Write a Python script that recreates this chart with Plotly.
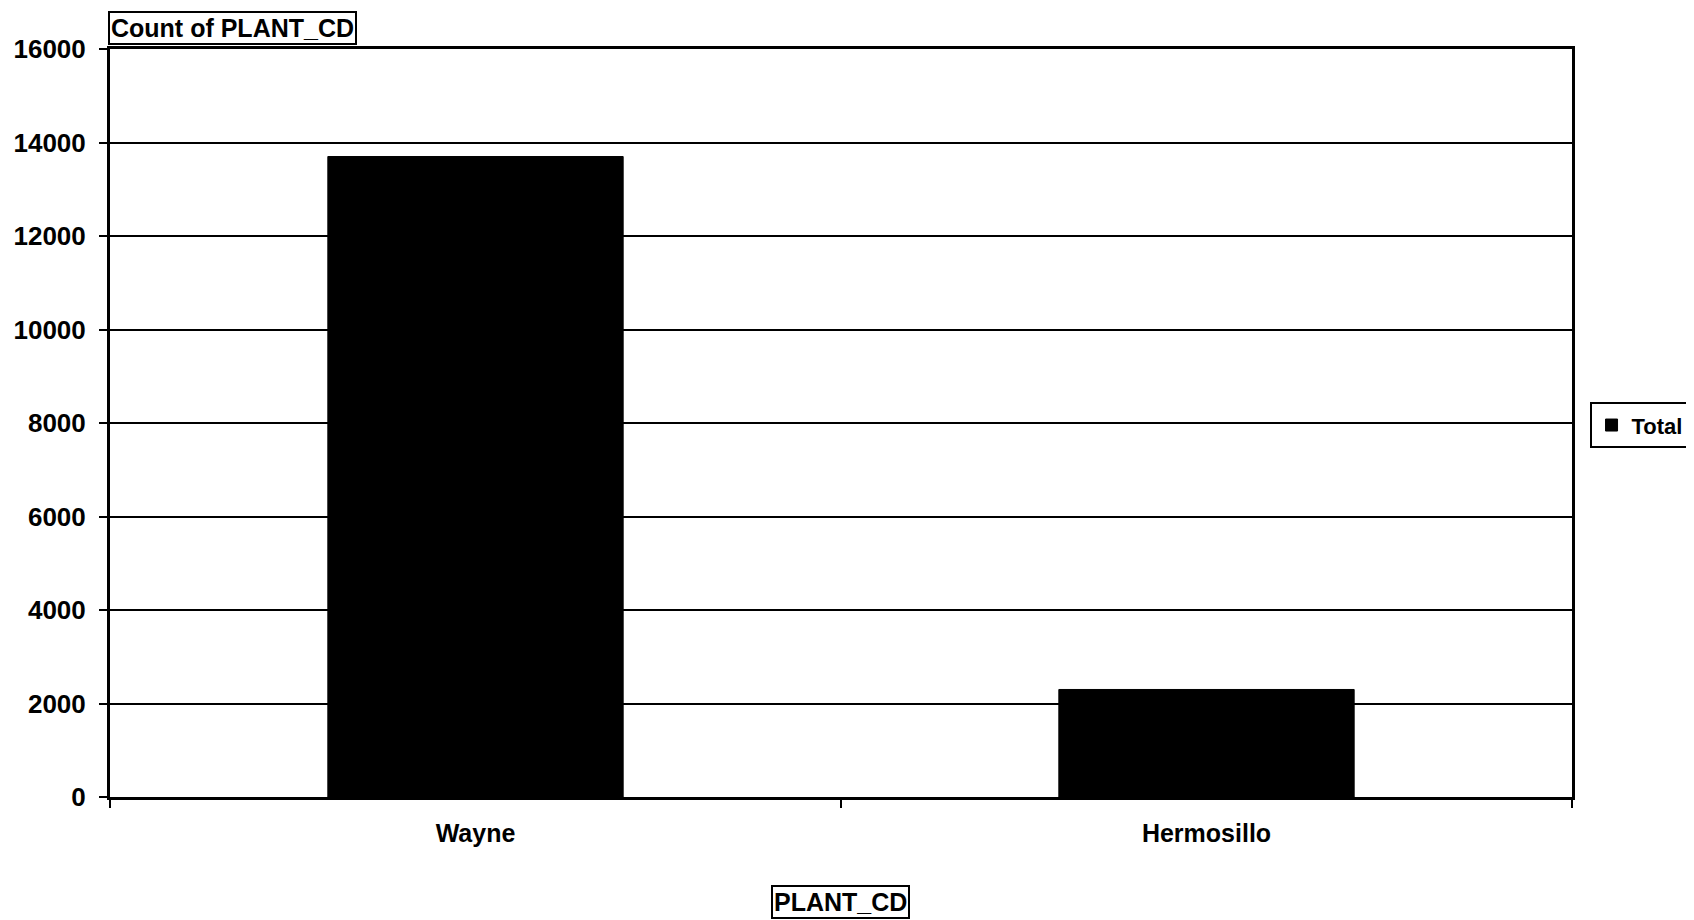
import plotly.graph_objects as go

categories = ["Wayne", "Hermosillo"]
counts = [13700, 2300]
series_name = "Total"
y_title = "Count of PLANT_CD"
x_title = "PLANT_CD"

FONT = "Liberation Sans"

fig = go.Figure()
fig.add_trace(go.Bar(
    x=categories, y=counts, name=series_name,
    marker=dict(color="black", line=dict(color="black", width=1)),
    showlegend=True,
))

fig.update_layout(
    width=1694, height=920,
    margin=dict(l=102, r=130, t=41, b=131, autoexpand=False),
    paper_bgcolor="white", plot_bgcolor="white",
    bargap=0.596,
    font=dict(family=FONT, size=25, color="black"),
    showlegend=True,
    legend=dict(
        x=1.012, y=0.497, xanchor="left", yanchor="middle",
        bordercolor="black", borderwidth=2, bgcolor="white",
        font=dict(family=FONT, size=22, color="black", weight="bold"),
        itemwidth=30, tracegroupgap=0,
    ),
)

fig.update_yaxes(
    range=[0, 16000], dtick=2000, tickformat="d",
    showgrid=True, gridcolor="black", gridwidth=2,
    showline=True, linecolor="black", linewidth=3, mirror=True,
    ticks="outside", ticklen=8, tickwidth=2, tickcolor="black",
    ticklabelstandoff=8,
    tickfont=dict(family=FONT, size=26, color="black", weight="bold"),
    zeroline=False,
)
fig.update_xaxes(
    showgrid=False,
    showline=True, linecolor="black", linewidth=3, mirror=True,
    ticks="outside", ticklen=8, tickwidth=2, tickcolor="black",
    tickson="boundaries", ticklabelstandoff=12,
    tickfont=dict(family=FONT, size=25, color="black", weight="bold"),
)

fig.add_annotation(
    text=y_title, xref="paper", yref="paper", x=-0.0014, y=1.0,
    xanchor="left", yanchor="bottom", showarrow=False, yshift=4,
    font=dict(family=FONT, size=25, color="black", weight="bold"),
    bordercolor="black", borderwidth=2, borderpad=1, bgcolor="white",
)
fig.add_annotation(
    text=x_title, xref="paper", yref="paper", x=0.4997, y=-0.14,
    xanchor="center", yanchor="middle", showarrow=False,
    font=dict(family=FONT, size=25, color="black", weight="bold"),
    bordercolor="black", borderwidth=2, borderpad=1, bgcolor="white",
)

fig.write_html("out.html")
